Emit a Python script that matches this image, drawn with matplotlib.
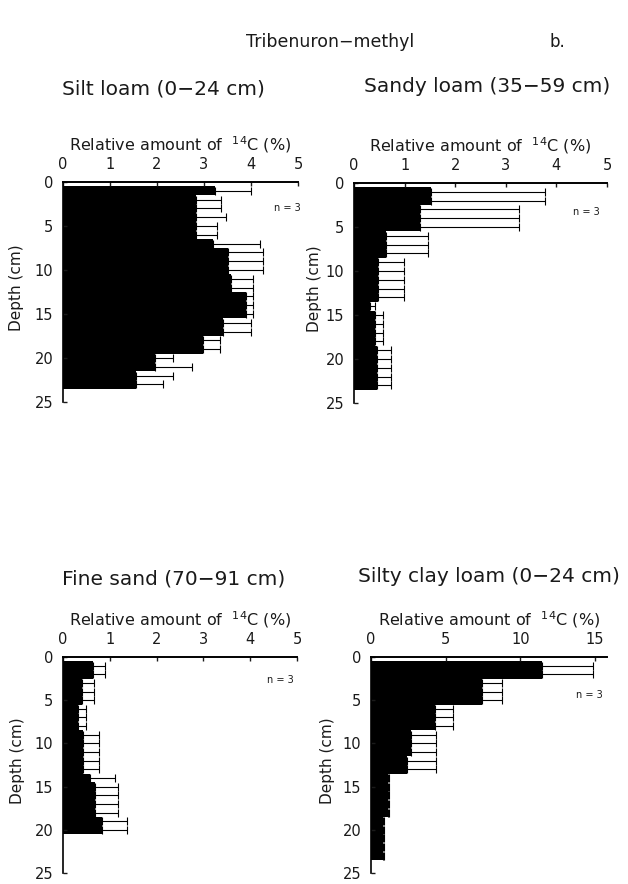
import numpy as np
import matplotlib
matplotlib.use('Agg')
import matplotlib.pyplot as plt

plt.rcParams['font.family'] = ['DejaVu Sans']
plt.rcParams['text.color'] = '#1a1a1a'
plt.rcParams['axes.labelcolor'] = '#1a1a1a'
plt.rcParams['xtick.color'] = '#1a1a1a'
plt.rcParams['ytick.color'] = '#1a1a1a'

# depth layers (cm), one bar per layer
depth_23 = list(range(1, 24))
depth_20 = list(range(1, 21))

# silt loam (0-24 cm): mean and mean + error
silt_val = [3.23, 2.84, 2.84, 2.84, 2.84, 2.84, 3.19, 3.51, 3.51, 3.51, 3.57, 3.57,
            3.89, 3.89, 3.89, 3.40, 3.40, 2.97, 2.97, 1.95, 1.95, 1.56, 1.56]
silt_top = [4.00, 3.36, 3.36, 3.46, 3.27, 3.27, 4.20, 4.25, 4.25, 4.25, 4.04, 4.04,
            4.04, 4.04, 4.04, 4.01, 4.01, 3.34, 3.34, 2.35, 2.74, 2.35, 2.13]

# sandy loam (35-59 cm)
sandy_val = [1.53, 1.53, 1.31, 1.31, 1.31, 0.63, 0.63, 0.63, 0.48, 0.48, 0.48, 0.48,
             0.48, 0.32, 0.41, 0.41, 0.41, 0.41, 0.45, 0.45, 0.45, 0.45, 0.45]
sandy_top = [3.77, 3.77, 3.27, 3.27, 3.27, 1.47, 1.47, 1.47, 0.99, 0.99, 0.99, 0.99,
             0.99, 0.41, 0.58, 0.58, 0.58, 0.58, 0.74, 0.74, 0.74, 0.74, 0.74]

# fine sand (70-91 cm)
fine_val = [0.64, 0.64, 0.41, 0.41, 0.41, 0.32, 0.32, 0.32, 0.43, 0.43, 0.43, 0.43,
            0.43, 0.57, 0.68, 0.68, 0.68, 0.68, 0.84, 0.84]
fine_top = [0.89, 0.89, 0.66, 0.66, 0.66, 0.50, 0.50, 0.50, 0.77, 0.77, 0.77, 0.77,
            0.77, 1.12, 1.18, 1.18, 1.18, 1.18, 1.36, 1.36]

# silty clay loam (0-24 cm)
clay_val = [11.44, 11.44, 7.44, 7.44, 7.44, 4.29, 4.29, 4.29, 2.67, 2.67, 2.67, 2.38,
            2.38, 1.11, 1.11, 1.11, 1.11, 1.11, 0.78, 0.78, 0.78, 0.78, 0.78]
clay_top = [14.89, 14.89, 8.78, 8.78, 8.78, 5.49, 5.49, 5.49, 4.38, 4.38, 4.38, 4.38,
            4.38, 1.22, 1.22, 1.22, 1.22, 1.22, 0.90, 0.90, 0.90, 0.90, 0.90]

titles = ['Silt loam (0\u221224 cm)', 'Sandy loam (35\u221259 cm)',
          'Fine sand (70\u221291 cm)', 'Silty clay loam (0\u221224 cm)']

W, H = 628, 884
fig = plt.figure(figsize=(W / 100, H / 100), dpi=100)


def rect(l, t, r, b):
    return [l / W, 1 - b / H, (r - l) / W, (b - t) / H]


def panel(box, depth, val, top, xmax, xticks, ylab_x, n_x, n_y):
    ax = fig.add_axes(rect(*box))
    val = np.array(val)
    top = np.array(top)
    ax.barh(depth, val, height=1.0, color='black', edgecolor='none')
    ax.errorbar(val, depth, xerr=[np.zeros_like(val), top - val], fmt='none',
                ecolor='black', elinewidth=0.8, capsize=3.2, capthick=0.8)
    ax.set_xlim(0, xmax)
    ax.set_ylim(25, 0)
    ax.set_xticks(xticks)
    ax.set_yticks([0, 5, 10, 15, 20, 25])
    ax.xaxis.tick_top()
    ax.xaxis.set_label_position('top')
    ax.tick_params(axis='x', direction='in', length=3, width=1, pad=7, labelsize=10.5)
    ax.tick_params(axis='y', direction='in', length=3, width=1, pad=7, labelsize=10.5)
    for s in ['right', 'bottom']:
        ax.spines[s].set_visible(False)
    ax.spines['top'].set_linewidth(1.4)
    ax.spines['left'].set_linewidth(1.2)
    ax.set_xlabel(r'Relative amount of  $^{14}$C (%)', fontsize=11.5, labelpad=5)
    ax.set_ylabel('Depth (cm)', fontsize=11)
    ax.yaxis.set_label_coords(ylab_x, 0.52)
    ax.text(n_x, n_y, 'n = 3', fontsize=7, ha='right', va='center')
    return ax


panel((63, 182, 298, 402), depth_23, silt_val, silt_top, 5, [0, 1, 2, 3, 4, 5], -0.166, 5.05, 3.0)
panel((354, 183, 607, 403), depth_23, sandy_val, sandy_top, 5, [0, 1, 2, 3, 4, 5], -0.126, 4.85, 3.3)
panel((63, 657, 297, 873), depth_20, fine_val, fine_top, 5, [0, 1, 2, 3, 4, 5], -0.162, 4.93, 2.7)
panel((371, 657, 607, 873), depth_23, clay_val, clay_top, 15.8, [0, 5, 10, 15], -0.153, 15.5, 4.4)

fig.text(330 / W, 1 - 42 / H, 'Tribenuron\u2212methyl', fontsize=12.5, ha='center', va='center')
fig.text(557 / W, 1 - 42 / H, 'b.', fontsize=12, ha='center', va='center')
fig.text(163 / W, 1 - 89 / H, titles[0], fontsize=14.5, ha='center', va='center')
fig.text(487 / W, 1 - 87 / H, titles[1], fontsize=14.5, ha='center', va='center')
fig.text(174 / W, 1 - 579 / H, titles[2], fontsize=14.5, ha='center', va='center')
fig.text(489 / W, 1 - 577 / H, titles[3], fontsize=14.5, ha='center', va='center')

fig.savefig('out.png', dpi=100, facecolor='white')
